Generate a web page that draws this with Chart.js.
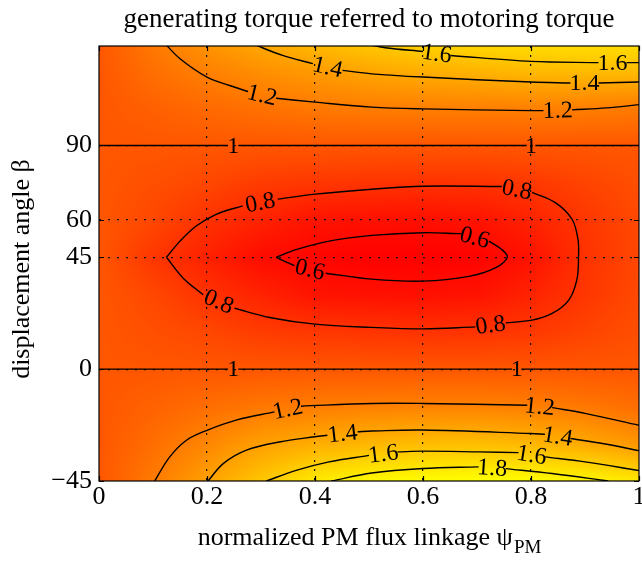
<!DOCTYPE html>
<html>
<head>
<meta charset="utf-8">
<script src="https://cdn.jsdelivr.net/npm/chart.js@4.4.1/dist/chart.umd.min.js"></script>
<style>
  html, body { margin: 0; padding: 0; background: #fff; }
</style>
</head>
<body>
<canvas id="chart" width="642" height="562"></canvas>
<script>
// axis ticks
const psiTicks = [0, 0.2, 0.4, 0.6, 0.8, 1];
const betaTicks = [-45, 0, 45, 60, 90];

// torque ratio on a coarse grid (psi across, beta down)
const psiGrid = [0, 0.1, 0.2, 0.3, 0.4, 0.5, 0.6, 0.7, 0.8, 0.9, 1];
const betaGrid = [-45, -30, -15, 0, 15, 30, 45, 60, 75, 90, 105, 120, 135];
const ratioM45 = [1.0, 1.19, 1.39, 1.58, 1.77, 1.84, 1.87, 1.88, 1.86, 1.83, 1.76];
const ratioM30 = [1.0, 1.12, 1.25, 1.38, 1.45, 1.5, 1.53, 1.54, 1.5, 1.43, 1.33];
const ratioM15 = [1.0, 1.06, 1.12, 1.17, 1.2, 1.215, 1.225, 1.225, 1.21, 1.17, 1.12];
const ratio0 = [1, 1, 1, 1, 1, 1, 1, 1, 1, 1, 1];
const ratio15 = [1.0, 0.96, 0.92, 0.86, 0.835, 0.82, 0.81, 0.815, 0.84, 0.9, 0.96];
const ratio30 = [1.0, 0.92, 0.81, 0.73, 0.65, 0.635, 0.63, 0.645, 0.73, 0.83, 0.93];
const ratio45 = [1.0, 0.83, 0.72, 0.61, 0.575, 0.555, 0.55, 0.565, 0.64, 0.81, 0.92];
const ratio60 = [1.0, 0.92, 0.81, 0.73, 0.65, 0.635, 0.63, 0.645, 0.73, 0.83, 0.93];
const ratio75 = [1.0, 0.96, 0.92, 0.86, 0.835, 0.82, 0.81, 0.815, 0.84, 0.9, 0.96];
const ratio90 = [1, 1, 1, 1, 1, 1, 1, 1, 1, 1, 1];
const ratio105 = [1.0, 1.05, 1.1, 1.14, 1.18, 1.2, 1.21, 1.215, 1.22, 1.21, 1.19];
const ratio120 = [1.0, 1.13, 1.22, 1.3, 1.36, 1.42, 1.46, 1.49, 1.52, 1.53, 1.53];
const ratio135 = [1.0, 1.2, 1.36, 1.48, 1.58, 1.66, 1.72, 1.76, 1.78, 1.78, 1.78];
const ratioRows = [ratioM45, ratioM30, ratioM15, ratio0, ratio15, ratio30, ratio45,
                   ratio60, ratio75, ratio90, ratio105, ratio120, ratio135];
const vMin = 0.55, vMax = 1.88;

// contour lines [psi, beta]; null = break where the level label sits
const c06 = [[0.328,45],[0.365,48.1],[0.426,51.5],[0.505,53.8],[0.6,54.9],[0.67,54.5], null,
  [0.722,51.5],[0.746,48.1],[0.756,45],[0.734,40.7],[0.685,37.3],[0.6,35.4],[0.505,36.2],[0.42,38.6], null,
  [0.362,41.6],[0.328,45]];
const c08 = [[0.125,45],[0.15,51.5],[0.18,57.6],[0.217,62.3],[0.266,65.7], null,
  [0.331,68.4],[0.4,70.4],[0.505,72.4],[0.6,73.6],[0.746,73.5], null,
  [0.802,71.1],[0.845,67],[0.876,60.3],[0.887,52.2],[0.888,45],[0.885,36],[0.87,27.8],[0.839,22.4],
  [0.802,19.7],[0.753,18.6], null,
  [0.697,17],[0.6,16.2],[0.505,16.8],[0.4,18.1],[0.316,20.8],[0.251,24.5], null,
  [0.193,29.9],[0.156,36.6],[0.125,45]];
const c1top = [[0,90],[0.239,90], null, [0.258,90],[0.792,90], null, [0.808,90],[1,90]];
const c1bot = [[0,0],[0.239,0], null, [0.258,0],[0.765,0], null, [0.782,0],[1,0]];
const c12top = [[0.122,131],[0.15,124.9],[0.2,117.5],[0.242,114.1],[0.276,111.7], null,
  [0.328,109],[0.4,107.4],[0.505,105.4],[0.6,104.7],[0.8,104],[0.823,104], null,
  [0.876,104.3],[0.94,105.1],[1,106.4]];
const c14top = [[0.283,131],[0.34,126.2],[0.396,122.9], null,
  [0.451,120.2],[0.505,118.8],[0.6,117.5],[0.8,115.5],[0.873,115.1], null,
  [0.925,115.1],[1,115.5]];
const c16top = [[0.49,131],[0.53,129.3],[0.6,127.8], null,
  [0.651,126.2],[0.8,123.8],[0.925,123.3], null,
  [0.977,123.3],[1,123.3]];
const c12bot = [[0.103,-45],[0.131,-35.3],[0.162,-28.6],[0.2,-24.6],[0.254,-20.5],[0.325,-17.2], null,
  [0.374,-14.9],[0.505,-13.8],[0.6,-13.8],[0.793,-14.5], null,
  [0.839,-15.5],[0.9,-17.8],[1,-22.6]];
const c14bot = [[0.202,-45],[0.23,-38],[0.273,-32.6],[0.334,-29.3],[0.4,-27.2],[0.423,-26.6], null,
  [0.479,-25.2],[0.505,-24.9],[0.6,-24.5],[0.8,-25.9],[0.826,-26.2], null,
  [0.873,-27.9],[0.935,-30],[1,-32.8]];
const c16bot = [[0.31,-45],[0.365,-40.7],[0.426,-37.3],[0.5,-34.7], null,
  [0.553,-33.3],[0.6,-33],[0.703,-33.3],[0.777,-33.6], null,
  [0.826,-35.3],[0.9,-37.3],[1,-40.8]];
const c18bot = [[0.43,-45],[0.505,-41.8],[0.6,-40],[0.703,-39.3], null,
  [0.753,-40],[0.839,-42],[0.943,-45]];

const contours = [
  [0.6, c06], [0.8, c08], [1, c1top], [1, c1bot],
  [1.2, c12top], [1.4, c14top], [1.6, c16top],
  [1.2, c12bot], [1.4, c14bot], [1.6, c16bot], [1.8, c18bot]
];

const serif = 'Liberation Serif';
const titleText = 'generating torque referred to motoring torque';
const xTitle = 'normalized PM flux linkage \u03c8';
const xTitleSub = 'PM';
const yTitle = 'displacement angle \u03b2';

function locate(grid, v) {
  let i = 0;
  while (i < grid.length - 2 && v > grid[i + 1]) i++;
  const t = (v - grid[i]) / (grid[i + 1] - grid[i]);
  return [i, Math.max(0, Math.min(1, t))];
}

function ratioAt(p, b) {
  const [i, u] = locate(psiGrid, p);
  const [j, s] = locate(betaGrid, b);
  const r0 = ratioRows[j], r1 = ratioRows[j + 1];
  const a0 = r0[i] * (1 - u) + r0[i + 1] * u;
  const a1 = r1[i] * (1 - u) + r1[i + 1] * u;
  return a0 * (1 - s) + a1 * s;
}

// colour field under everything (autumn colormap: red -> yellow)
const heatmap = {
  id: 'heatmap',
  beforeDraw(chart) {
    const { ctx, chartArea: a, scales: { x, y } } = chart;
    const w = Math.round(a.right - a.left), h = Math.round(a.bottom - a.top);
    const off = document.createElement('canvas');
    off.width = w; off.height = h;
    const octx = off.getContext('2d');
    const img = octx.createImageData(w, h);
    for (let j = 0; j < h; j++) {
      const b = y.getValueForPixel(a.top + j + 0.5);
      for (let i = 0; i < w; i++) {
        const v = ratioAt(x.getValueForPixel(a.left + i + 0.5), b);
        const t = Math.max(0, Math.min(1, (v - vMin) / (vMax - vMin)));
        const k = (j * w + i) * 4;
        img.data[k] = 255;
        img.data[k + 1] = Math.round(255 * t);
        img.data[k + 2] = 0;
        img.data[k + 3] = 255;
      }
    }
    octx.putImageData(img, 0, 0);
    ctx.drawImage(off, a.left, a.top);
  }
};

// inline level labels, centred in each gap of the contour line
const levelLabels = {
  id: 'levelLabels',
  afterDatasetsDraw(chart) {
    const { ctx, scales: { x, y } } = chart;
    ctx.save();
    ctx.font = '24px "' + serif + '"';
    ctx.fillStyle = '#000';
    ctx.textAlign = 'center';
    ctx.textBaseline = 'middle';
    contours.forEach(([lvl, path]) => {
      path.forEach((p, i) => {
        if (p !== null) return;
        const a = path[i - 1], b = path[i + 1];
        const x0 = x.getPixelForValue(a[0]), y0 = y.getPixelForValue(a[1]);
        const x1 = x.getPixelForValue(b[0]), y1 = y.getPixelForValue(b[1]);
        let ang = Math.atan2(y1 - y0, x1 - x0);
        if (ang > Math.PI / 2) ang -= Math.PI;
        if (ang < -Math.PI / 2) ang += Math.PI;
        ctx.save();
        ctx.translate((x0 + x1) / 2, (y0 + y1) / 2);
        ctx.rotate(ang);
        ctx.fillText(String(lvl), 0, 1);
        ctx.restore();
      });
    });
    ctx.restore();
  }
};

// box, inward ticks, title and axis titles
const frame = {
  id: 'frame',
  afterDraw(chart) {
    const { ctx, chartArea: a, scales: { x, y } } = chart;
    ctx.save();
    ctx.strokeStyle = '#000';
    ctx.lineWidth = 1.2;
    ctx.strokeRect(a.left, a.top, a.right - a.left, a.bottom - a.top);
    ctx.beginPath();
    psiTicks.forEach(v => {
      const px = Math.round(x.getPixelForValue(v)) + 0.5;
      ctx.moveTo(px, a.bottom); ctx.lineTo(px, a.bottom - 5);
      ctx.moveTo(px, a.top); ctx.lineTo(px, a.top + 5);
    });
    betaTicks.forEach(v => {
      const py = Math.round(y.getPixelForValue(v)) + 0.5;
      ctx.moveTo(a.left, py); ctx.lineTo(a.left + 5, py);
      ctx.moveTo(a.right, py); ctx.lineTo(a.right - 5, py);
    });
    ctx.stroke();

    const cx = (a.left + a.right) / 2;
    ctx.fillStyle = '#000';

    // title, centred over the plot box
    ctx.font = '27px "' + serif + '"';
    ctx.textAlign = 'center';
    ctx.textBaseline = 'middle';
    ctx.fillText(titleText, cx, 20);

    // y title
    ctx.save();
    ctx.translate(22, 269);
    ctx.rotate(-Math.PI / 2);
    ctx.font = '26px "' + serif + '"';
    ctx.fillText(yTitle, 0, 0);
    ctx.restore();

    // x title with subscript
    ctx.textBaseline = 'alphabetic';
    ctx.textAlign = 'left';
    ctx.font = '26px "' + serif + '"';
    const w1 = ctx.measureText(xTitle).width;
    ctx.font = '19px "' + serif + '"';
    const w2 = ctx.measureText(xTitleSub).width;
    const x0 = cx - (w1 + w2) / 2;
    ctx.font = '26px "' + serif + '"';
    ctx.fillText(xTitle, x0, 545);
    ctx.font = '19px "' + serif + '"';
    ctx.fillText(xTitleSub, x0 + w1 + 1, 553);
    ctx.restore();
  }
};

const gridColor = (lo, hi) => c => (c.tick && c.tick.value > lo && c.tick.value < hi) ? '#111' : 'rgba(0,0,0,0)';

new Chart(document.getElementById('chart'), {
  type: 'line',
  data: {
    datasets: contours.map(([lvl, path]) => ({
      label: String(lvl),
      data: path.map((p, i) => p ? { x: p[0], y: p[1] } : { x: path[i - 1][0], y: null }),
      borderColor: '#000',
      borderWidth: 1.4,
      pointRadius: 0,
      tension: 0.35,
      spanGaps: false,
      fill: false
    }))
  },
  options: {
    responsive: false,
    animation: false,
    devicePixelRatio: 1,
    layout: { padding: { left: 0, right: 3, top: 46, bottom: 0 } },
    plugins: {
      legend: { display: false },
      tooltip: { enabled: false },
      title: { display: false }
    },
    scales: {
      x: {
        type: 'linear',
        min: 0, max: 1,
        afterBuildTicks: s => { s.ticks = psiTicks.map(v => ({ value: v })); },
        afterFit: s => { s.height = 81; s.paddingLeft = 0; s.paddingRight = 0; },
        ticks: {
          color: '#000',
          font: { family: serif, size: 26 },
          padding: 1,
          maxRotation: 0,
          callback: v => String(+v.toFixed(1))
        },
        grid: { color: gridColor(0, 1), lineWidth: 1.2, drawTicks: false },
        border: { display: false, dash: [2, 7] }
      },
      y: {
        type: 'linear',
        min: -45, max: 130,
        afterBuildTicks: s => { s.ticks = betaTicks.map(v => ({ value: v })); },
        afterFit: s => { s.width = 99; s.paddingTop = 0; s.paddingBottom = 0; },
        ticks: {
          color: '#000',
          font: { family: serif, size: 26 },
          padding: 7,
          callback: v => v < 0 ? '\u2212' + Math.abs(v) : String(v)
        },
        grid: { color: gridColor(-45, 130), lineWidth: 1.2, drawTicks: false },
        border: { display: false, dash: [2, 7] }
      }
    }
  },
  plugins: [heatmap, levelLabels, frame]
});
</script>
</body>
</html>
